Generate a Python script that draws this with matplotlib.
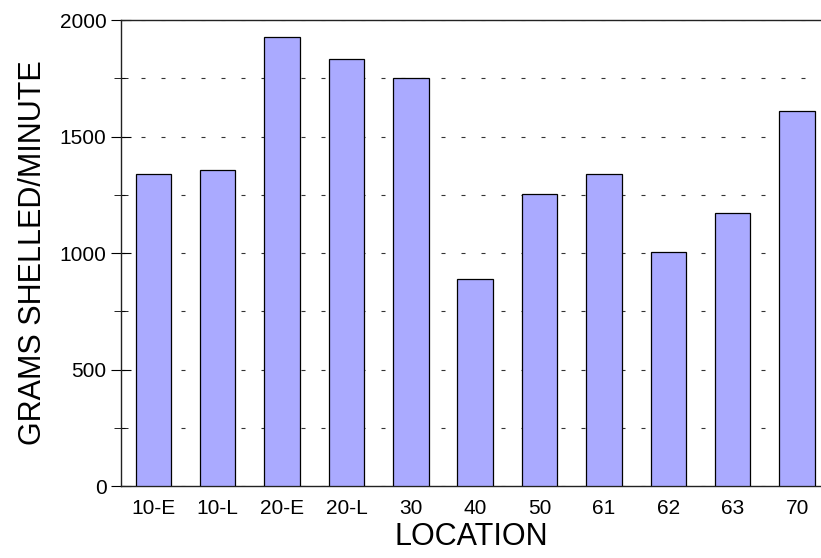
import numpy as np
import matplotlib
matplotlib.use('Agg')
import matplotlib.pyplot as plt
from matplotlib.ticker import MultipleLocator

plt.rcParams['font.family'] = ['Liberation Sans', 'DejaVu Sans']

locations = ['10-E', '10-L', '20-E', '20-L', '30', '40', '50', '61', '62', '63', '70']
grams = [1340, 1357, 1927, 1835, 1751, 888, 1252, 1340, 1004, 1172, 1611]

fig = plt.figure(figsize=(8.21, 5.58), dpi=100)
ax = fig.add_axes([0.1474, 0.129, 0.8526, 0.835])

x = np.arange(len(locations))
ax.bar(x, grams, width=0.55, color='#aaaaff', edgecolor='black', linewidth=0.9, zorder=3)

ax.set_ylim(0, 2000)
ax.set_xlim(-0.5, 10.37)
ax.yaxis.set_major_locator(MultipleLocator(500))
ax.yaxis.set_minor_locator(MultipleLocator(250))
ax.grid(axis='y', which='both', color='#333333', linewidth=0.8,
        linestyle=(0, (3.6, 14.4)), zorder=1)

ax.set_xticks(x)
ax.set_xticklabels(locations)
ax.tick_params(axis='x', length=0, labelsize=15, pad=9)
ax.tick_params(axis='y', which='major', direction='inout', length=15, labelsize=15, pad=3)
ax.tick_params(axis='y', which='minor', direction='inout', length=10)

for s in ['left', 'top', 'bottom']:
    ax.spines[s].set_linewidth(1.0)
    ax.spines[s].set_color('#222222')
ax.spines['right'].set_visible(False)

ax.set_xlabel('LOCATION', fontsize=22, labelpad=3)
ax.set_ylabel('GRAMS SHELLED/MINUTE', fontsize=22, labelpad=8)

fig.savefig('out.png', dpi=100)
